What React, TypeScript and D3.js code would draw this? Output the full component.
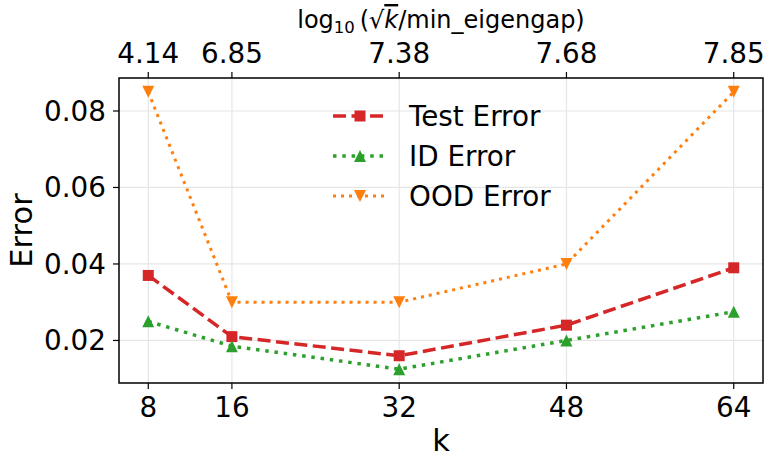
import React from "react";
import * as d3 from "d3";

const ks = [8, 16, 32, 48, 64];
const topLabels = ["4.14", "6.85", "7.38", "7.68", "7.85"];
const testError = [0.037, 0.021, 0.016, 0.024, 0.039];
const idError = [0.025, 0.0185, 0.0125, 0.02, 0.0275];
const oodError = [0.085, 0.03, 0.03, 0.04, 0.085];
const yTicks = [0.02, 0.04, 0.06, 0.08];

const W = 764, H = 457;
const L = 119, R = 763, T = 78, B = 383;
const FONT = "DejaVu Sans, sans-serif";
const TF = 27.8;

export default function App() {
  const x = d3.scaleLinear().domain([5.2, 66.8]).range([L, R]);
  const allY = [...testError, ...idError, ...oodError];
  const ymin = d3.min(allY)!, ymax = d3.max(allY)!;
  const pad = (ymax - ymin) * 0.05;
  const y = d3.scaleLinear().domain([ymin - pad, ymax + pad]).range([B, T]);

  const series = [
    { name: "Test Error", data: testError, color: "#d62728", dash: "13,5.5", width: 3.5, marker: "square" },
    { name: "ID Error", data: idError, color: "#2ca02c", dash: "3.5,5.8", width: 3.5, marker: "up" },
    { name: "OOD Error", data: oodError, color: "#ff7f0e", dash: "3,5", width: 3, marker: "down" },
  ];

  const line = (vals: number[]) =>
    d3.line<number>().x((_, i) => x(ks[i])).y((v) => y(v))(vals) || "";

  const marker = (kind: string, cx: number, cy: number, color: string, key: any) => {
    const s = 11;
    if (kind === "square")
      return <rect key={key} x={cx - s / 2} y={cy - s / 2} width={s} height={s} fill={color} />;
    const h = 6;
    const pts = kind === "up"
      ? `${cx},${cy - h} ${cx + h},${cy + h} ${cx - h},${cy + h}`
      : `${cx},${cy + h} ${cx + h},${cy - h} ${cx - h},${cy - h}`;
    return <polygon key={key} points={pts} fill={color} />;
  };

  return (
    <svg width={W} height={H} style={{ position: "absolute", left: 0, top: 0 }} fontFamily={FONT}>
      <rect width={W} height={H} fill="white" />
      {/* grid */}
      {ks.map((k) => (
        <line key={"gx" + k} x1={x(k)} x2={x(k)} y1={T} y2={B} stroke="#e6e6e6" strokeWidth={1.2} />
      ))}
      {yTicks.map((v) => (
        <line key={"gy" + v} x1={L} x2={R} y1={y(v)} y2={y(v)} stroke="#e6e6e6" strokeWidth={1.2} />
      ))}
      {/* lines */}
      {series.map((s) => (
        <path key={s.name} d={line(s.data)} fill="none" stroke={s.color} strokeWidth={s.width}
          strokeDasharray={s.dash} />
      ))}
      {series.map((s) => s.data.map((v, i) => marker(s.marker, x(ks[i]), y(v), s.color, s.name + i)))}
      {/* frame */}
      <rect x={L} y={T} width={R - L} height={B - T} fill="none" stroke="black" strokeWidth={1.5} />
      {/* bottom ticks */}
      {ks.map((k) => (
        <g key={"bt" + k}>
          <line x1={x(k)} x2={x(k)} y1={B} y2={B + 6} stroke="black" strokeWidth={1.2} />
          <text x={x(k)} y={B + 34} fontSize={TF} textAnchor="middle">{k}</text>
        </g>
      ))}
      {/* top ticks */}
      {ks.map((k, i) => (
        <g key={"tt" + k}>
          <line x1={x(k)} x2={x(k)} y1={T} y2={T - 6} stroke="black" strokeWidth={1.2} />
          <text x={x(k)} y={T - 15} fontSize={TF} textAnchor="middle">{topLabels[i]}</text>
        </g>
      ))}
      {/* left ticks */}
      {yTicks.map((v) => (
        <g key={"lt" + v}>
          <line x1={L} x2={L - 6} y1={y(v)} y2={y(v)} stroke="black" strokeWidth={1.2} />
          <text x={L - 13} y={y(v)} dy="0.36em" fontSize={TF} textAnchor="end">{d3.format(".2f")(v)}</text>
        </g>
      ))}
      {/* labels */}
      <text x={(L + R) / 2} y={451} fontSize={30.5} textAnchor="middle">k</text>
      <text transform={`translate(32,${(T + B) / 2}) rotate(-90)`} fontSize={30.5} textAnchor="middle">Error</text>
      <text x={441} y={28} fontSize={24} textAnchor="middle">
        <tspan>log</tspan>
        <tspan fontSize={16.5} dy={5}>10</tspan>
        <tspan dy={-5}>{"\u2009(\u221A"}</tspan>
        <tspan fontStyle="italic" style={{ textDecoration: "overline" }}>k</tspan>
        <tspan>/min_eigengap)</tspan>
      </text>
      {/* legend */}
      {series.map((s, i) => {
        const ly = 116 + i * 40;
        return (
          <g key={"lg" + s.name}>
            <line x1={333} x2={387} y1={ly} y2={ly} stroke={s.color} strokeWidth={s.width} strokeDasharray={s.dash} />
            {marker(s.marker, 360, ly, s.color, "lm" + i)}
            <text x={409} y={ly} dy="0.36em" fontSize={TF}>{s.name}</text>
          </g>
        );
      })}
    </svg>
  );
}
